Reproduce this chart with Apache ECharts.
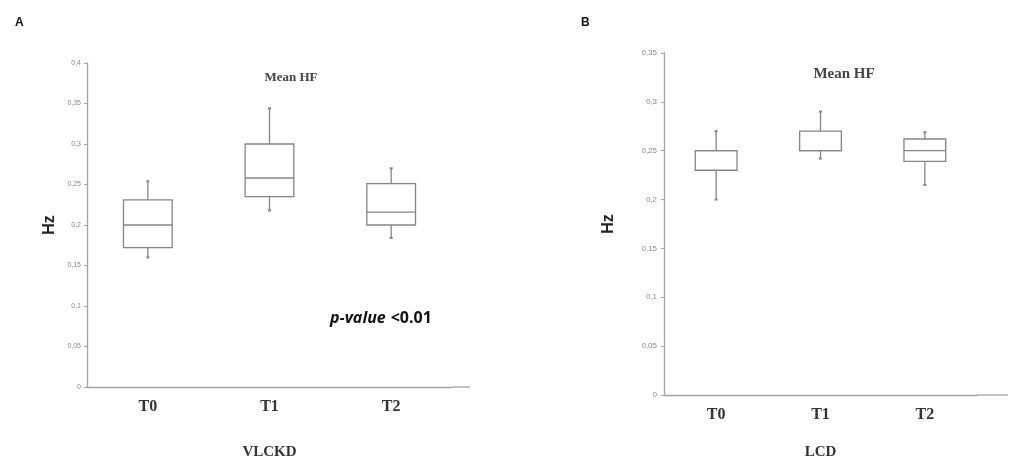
<!DOCTYPE html>
<html>
<head>
<meta charset="utf-8">
<script src="https://cdn.jsdelivr.net/npm/echarts@6/dist/echarts.min.js"></script>
<style>
  html, body { margin: 0; padding: 0; background: #fff; }
  #chart { width: 1012px; height: 463px; }
</style>
</head>
<body>
<div id="chart"></div>
<script>
// categories and box statistics: [min, q1, median, q3, max]
const categories = ['T0', 'T1', 'T2'];
const vlckdBoxes = [
    [0.160, 0.172, 0.200, 0.231, 0.254],
    [0.218, 0.235, 0.258, 0.300, 0.344],
    [0.184, 0.200, 0.216, 0.251, 0.270]
];
const lcdBoxes = [
    [0.200, 0.230, 0.250, 0.250, 0.270],
    [0.242, 0.250, 0.250, 0.270, 0.290],
    [0.215, 0.239, 0.250, 0.262, 0.269]
];
const yMaxA = 0.4;
const yMaxB = 0.35;
const yStep = 0.05;

let echarts_chart = echarts.init(document.getElementById('chart'));

const BOX_COLOR = '#858585';
const AXIS_COLOR = '#a3a3a3';
const SERIF = '"Liberation Serif", "DejaVu Serif", serif';
const SANS = '"Liberation Sans", Arial, sans-serif';

function box_data(boxes) {
    return boxes.map(function (b, i) { return [i].concat(b); });
}

function render_box(params, api) {
    let cat = api.value(0);
    let half = api.size([1, 0])[0] * 0.2;
    let pMin = api.coord([cat, api.value(1)]);
    let pQ1 = api.coord([cat, api.value(2)]);
    let pMed = api.coord([cat, api.value(3)]);
    let pQ3 = api.coord([cat, api.value(4)]);
    let pMax = api.coord([cat, api.value(5)]);
    let x = pMin[0];
    let style = { stroke: BOX_COLOR, lineWidth: 1.3, fill: null };
    return {
        type: 'group',
        children: [
            { type: 'rect', shape: { x: x - half, y: pQ3[1], width: half * 2, height: pQ1[1] - pQ3[1] }, style: { stroke: BOX_COLOR, lineWidth: 1.3, fill: '#fff' } },
            { type: 'line', shape: { x1: x - half, y1: pMed[1], x2: x + half, y2: pMed[1] }, style: style },
            { type: 'line', shape: { x1: x, y1: pQ3[1], x2: x, y2: pMax[1] }, style: style },
            { type: 'line', shape: { x1: x, y1: pQ1[1], x2: x, y2: pMin[1] }, style: style },
            { type: 'line', shape: { x1: x - 1.5, y1: pMax[1], x2: x + 1.5, y2: pMax[1] }, style: { stroke: BOX_COLOR, lineWidth: 2 } },
            { type: 'line', shape: { x1: x - 1.5, y1: pMin[1], x2: x + 1.5, y2: pMin[1] }, style: { stroke: BOX_COLOR, lineWidth: 2 } }
        ]
    };
}

function x_axis(gridIndex, name, nameGap) {
    return {
        type: 'category',
        gridIndex: gridIndex,
        data: categories,
        boundaryGap: true,
        name: name,
        nameLocation: 'middle',
        nameGap: nameGap,
        nameTextStyle: { fontFamily: SERIF, fontWeight: 'bold', fontSize: 15, color: '#333' },
        axisLine: { lineStyle: { color: AXIS_COLOR, width: 1.3 } },
        axisTick: { length: 3, lineStyle: { color: AXIS_COLOR } },
        axisLabel: { fontFamily: SERIF, fontWeight: 'bold', fontSize: 16, color: '#333', margin: 12 },
        splitLine: { show: false }
    };
}

function y_axis(gridIndex, max, nameGap, labelSize, labelMargin) {
    return {
        type: 'value',
        gridIndex: gridIndex,
        min: 0,
        max: max,
        interval: yStep,
        name: 'Hz',
        nameLocation: 'middle',
        nameRotate: 90,
        nameGap: nameGap,
        nameTextStyle: { fontFamily: SANS, fontWeight: 'bold', fontSize: 16, color: '#222' },
        axisLine: { show: true, lineStyle: { color: AXIS_COLOR, width: 1.3 } },
        axisTick: { show: true, length: 3, lineStyle: { color: AXIS_COLOR } },
        axisLabel: {
            fontFamily: SANS, fontSize: labelSize, color: '#888', margin: labelMargin,
            formatter: function (v) { return String(+v.toFixed(2)).replace('.', ','); }
        },
        splitLine: { show: false }
    };
}

let echarts_options = {
    backgroundColor: '#fff',
    animation: false,
    title: [
        { text: 'A', left: 10, top: 12, textStyle: { fontFamily: SANS, fontWeight: 'bold', fontSize: 12, color: '#111' } },
        { text: 'B', left: 576, top: 12, textStyle: { fontFamily: SANS, fontWeight: 'bold', fontSize: 12, color: '#111' } },
        { text: 'Mean HF', left: 286, top: 66, textAlign: 'center', textStyle: { fontFamily: SERIF, fontWeight: 'bold', fontSize: 13, color: '#444' } },
        { text: 'Mean HF', left: 839, top: 62, textAlign: 'center', textStyle: { fontFamily: SERIF, fontWeight: 'bold', fontSize: 15, color: '#444' } },
        {
            text: '{i|p-value} {b|<0.01}', left: 325, top: 304,
            textStyle: {
                rich: {
                    i: { fontFamily: '"Open Sans", sans-serif', fontWeight: 'bold', fontStyle: 'italic', fontSize: 16, color: '#111' },
                    b: { fontFamily: '"Open Sans", sans-serif', fontWeight: 'bold', fontSize: 16, color: '#111' }
                }
            }
        }
    ],
    grid: [
        { left: 87, top: 63, width: 365, height: 324, outerBoundsMode: 'none' },
        { left: 664, top: 53, width: 313, height: 342, outerBoundsMode: 'none' }
    ],
    xAxis: [x_axis(0, 'VLCKD', 58), x_axis(1, 'LCD', 50)],
    yAxis: [y_axis(0, yMaxA, 29, 7, 6), y_axis(1, yMaxB, 47, 8, 7)],
    series: [
        {
            type: 'custom',
            xAxisIndex: 0,
            yAxisIndex: 0,
            renderItem: render_box,
            encode: { x: 0, y: [1, 2, 3, 4, 5] },
            data: box_data(vlckdBoxes)
        },
        {
            type: 'custom',
            xAxisIndex: 1,
            yAxisIndex: 1,
            renderItem: render_box,
            encode: { x: 0, y: [1, 2, 3, 4, 5] },
            data: box_data(lcdBoxes)
        }
    ],
    graphic: [
        // x axis lines run a little past the last tick, as in the original plots
        { type: 'line', shape: { x1: 452, y1: 387, x2: 470, y2: 387 }, style: { stroke: AXIS_COLOR, lineWidth: 1.3 } },
        { type: 'line', shape: { x1: 977, y1: 395, x2: 1008, y2: 395 }, style: { stroke: AXIS_COLOR, lineWidth: 1.3 } }
    ]
};

echarts_chart.setOption(echarts_options);
</script>
</body>
</html>
